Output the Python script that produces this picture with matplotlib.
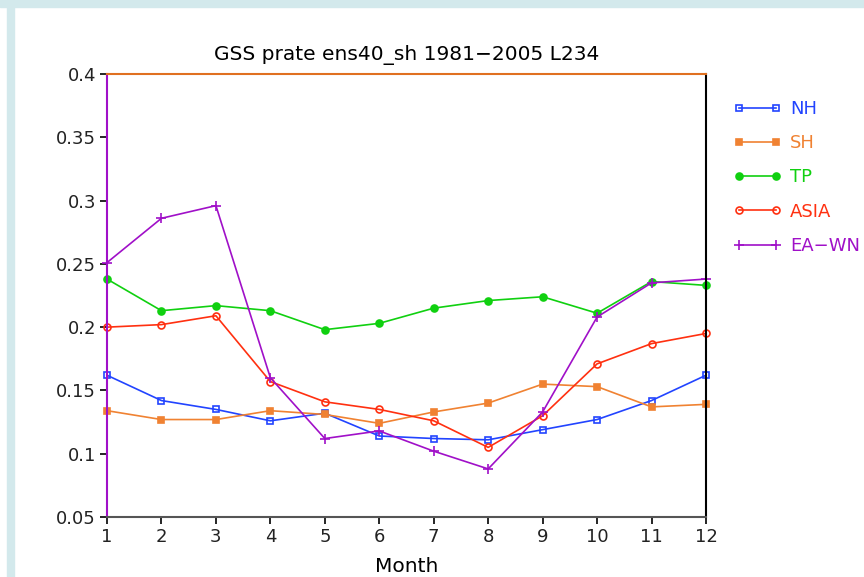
import matplotlib
matplotlib.use("Agg")
import matplotlib.pyplot as plt
from matplotlib.patches import Rectangle
from matplotlib.lines import Line2D

# --- DATA ---
months = [1, 2, 3, 4, 5, 6, 7, 8, 9, 10, 11, 12]
nh = [0.162, 0.142, 0.135, 0.126, 0.132, 0.114, 0.112, 0.111, 0.119, 0.127, 0.142, 0.162]
sh = [0.134, 0.127, 0.127, 0.134, 0.131, 0.124, 0.133, 0.140, 0.155, 0.153, 0.137, 0.139]
tp = [0.238, 0.213, 0.217, 0.213, 0.198, 0.203, 0.215, 0.221, 0.224, 0.211, 0.236, 0.233]
asia = [0.200, 0.202, 0.209, 0.157, 0.141, 0.135, 0.126, 0.105, 0.130, 0.171, 0.187, 0.195]
eawn = [0.251, 0.286, 0.296, 0.160, 0.112, 0.118, 0.102, 0.088, 0.133, 0.208, 0.235, 0.238]

series_names = ["NH", "SH", "TP", "ASIA", "EA\u2212WN"]
series_vals = [nh, sh, tp, asia, eawn]
colors = ["#2244ff", "#f08232", "#10d010", "#ff3010", "#a010c8"]
markers = ["s", "s", "o", "o", "+"]
fills = ["none", "full", "full", "none", "full"]

yticks = [0.05, 0.1, 0.15, 0.2, 0.25, 0.3, 0.35, 0.4]
ytick_labels = ["0.05", "0.1", "0.15", "0.2", "0.25", "0.3", "0.35", "0.4"]

# --- PLOT ---
fig = plt.figure(figsize=(8.64, 5.77), dpi=100)
ax = fig.add_axes([107 / 864, 1 - 517 / 577, (706 - 107) / 864, (517 - 74) / 577])

# screenshot frame bits (light blue strips)
fig.patches.append(Rectangle((0, 1 - 7 / 577), 1, 7 / 577, transform=fig.transFigure,
                             color="#d3e9ec", zorder=0))
fig.patches.append(Rectangle((7 / 864, 0), 7 / 864, 1, transform=fig.transFigure,
                             color="#d3e9ec", zorder=0))

handles = []
for name, vals, c, m, f in zip(series_names, series_vals, colors, markers, fills):
    mfc = "none" if f == "none" else c
    ms = 5 if m != "+" else 7
    ax.plot(months, vals, color=c, lw=1.2, marker=m, ms=ms,
            mfc=mfc, mec=c, mew=1.2, clip_on=False)
    handles.append(Line2D([0], [0], color=c, lw=1.2, marker=m, ms=ms,
                          mfc=mfc, mec=c, mew=1.2))

ax.set_xlim(1, 12)
ax.set_ylim(0.05, 0.4)
ax.set_xticks(months)
ax.set_yticks(yticks)
ax.set_yticklabels(ytick_labels)
ax.tick_params(direction="out", length=5, width=1.2, labelsize=13, pad=3,
               labelcolor="#222222")

ax.spines["top"].set_color("#e07020")
ax.spines["left"].set_color("#a010c8")
ax.spines["bottom"].set_color("#555555")
ax.spines["right"].set_color("black")
for s in ax.spines.values():
    s.set_linewidth(1.5)

ax.set_title("GSS prate ens40_sh 1981\u22122005 L234", fontsize=14.5, pad=10)
ax.set_xlabel("Month", fontsize=14.5, labelpad=8)

leg = fig.legend(handles, series_names, loc="upper left",
                 bbox_to_anchor=(734 / 864, 1 - 100 / 577), frameon=False,
                 numpoints=2, handlelength=2.6, labelspacing=0.9,
                 handletextpad=0.5, borderpad=0, borderaxespad=0, fontsize=13)
for t, c in zip(leg.get_texts(), colors):
    t.set_color(c)

fig.savefig("out.png", dpi=100)
